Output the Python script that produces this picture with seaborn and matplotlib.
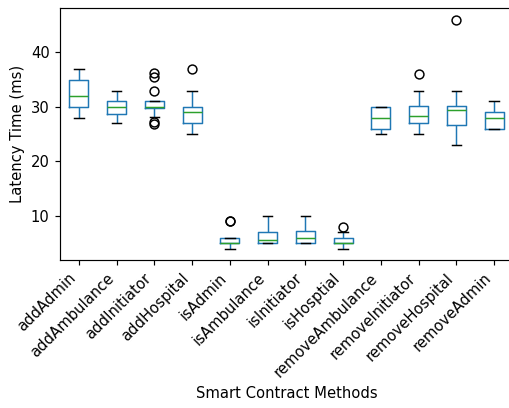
import pandas as pd
import matplotlib
matplotlib.use("Agg")
import matplotlib.pyplot as plt
import seaborn as sns

# latency samples (ms) for each smart contract method
methods = ["addAdmin", "addAmbulance", "addInitiator", "addHospital",
           "isAdmin", "isAmbulance", "isInitiator", "isHosptial",
           "removeAmbulance", "removeInitiator", "removeHospital", "removeAdmin"]

add_admin = [28, 29, 29, 30, 30, 30, 31, 31, 31, 32, 32, 32, 33, 33, 34, 35, 35, 36, 36, 37, 37]
add_ambulance = [27, 27.5, 28, 28.2, 28.5, 28.7, 29, 29.3, 29.5, 29.8, 30, 30.2, 30.4, 30.6,
                 30.8, 31, 31.5, 32, 32.3, 32.7, 33]
add_initiator = [26.8, 27.2, 28.1, 29.0, 29.5, 29.8, 29.8, 29.9, 29.9, 30.0, 30.0, 30.2, 30.5,
                 30.8, 31.0, 31.0, 31.0, 31.0, 33.0, 35.5, 36.2]
add_hospital = [25, 25.5, 26, 26.5, 27, 27, 27.5, 28, 28.3, 28.7, 29, 29.2, 29.4, 29.6, 29.8,
                30, 30.5, 31, 32, 33, 37]
is_admin = [4, 4.5, 5, 5, 5, 5, 5, 5, 5, 5, 5, 5.2, 5.5, 5.8, 6, 6, 6, 6, 6, 9, 9]
is_ambulance = [5, 5, 5, 5, 5, 5, 5.1, 5.2, 5.3, 5.4, 5.5, 5.8, 6.1, 6.5, 6.8, 7.1, 7.5, 8,
                8.7, 9.3, 10]
is_initiator = [5, 5, 5, 5, 5, 5, 5.2, 5.4, 5.6, 5.8, 6, 6.2, 6.4, 6.7, 7, 7.3, 7.7, 8.2,
                8.8, 9.4, 10]
is_hosptial = [4, 4.5, 5, 5, 5, 5, 5, 5, 5, 5, 5, 5.3, 5.5, 5.7, 5.9, 6, 6, 6.3, 6.6, 7, 8]
remove_ambulance = [25, 25.3, 25.6, 25.8, 26, 26, 26.4, 26.8, 27.2, 27.6, 28, 28.4, 28.8,
                    29.2, 29.6, 30, 30, 30, 30, 30, 30]
remove_initiator = [25, 25.5, 26, 26.3, 26.7, 27, 27.3, 27.6, 27.9, 28.2, 28.4, 28.7, 29,
                    29.4, 29.8, 30.2, 30.8, 31.5, 32.2, 33, 36]
remove_hospital = [23, 24, 24.8, 25.5, 26, 26.6, 27.5, 28.3, 28.8, 29.2, 29.5, 29.6, 29.8,
                   29.9, 30, 30.2, 30.8, 31.5, 32.2, 33, 46]
remove_admin = [26, 26, 26, 26, 26, 26, 26.5, 27, 27.3, 27.7, 28, 28.2, 28.4, 28.6, 28.8,
                29, 29.4, 29.8, 30.2, 30.6, 31]

samples = [add_admin, add_ambulance, add_initiator, add_hospital,
           is_admin, is_ambulance, is_initiator, is_hosptial,
           remove_ambulance, remove_initiator, remove_hospital, remove_admin]

df = pd.DataFrame({
    "Method": [m for m, s in zip(methods, samples) for _ in s],
    "Latency": [v for s in samples for v in s],
})

# slightly higher dpi so text and lines come out a bit larger
dpi = 106.5
fig = plt.figure(figsize=(509 / dpi, 408 / dpi), dpi=dpi)
ax = fig.add_axes([60 / 509, 1 - 260 / 408, (513 - 60) / 509, (260 - 8.3) / 408])

sns.boxplot(data=df, x="Method", y="Latency", order=methods, ax=ax,
            fill=False, color="C0", width=0.5, linewidth=1,
            boxprops=dict(color="C0"),
            whiskerprops=dict(color="C0"),
            capprops=dict(color="black"),
            medianprops=dict(color="C2"),
            flierprops=dict(marker="o", markerfacecolor="none",
                            markeredgecolor="black", markersize=6))

ax.set_xlabel("Smart Contract Methods")
ax.set_ylabel("Latency Time (ms)")
plt.setp(ax.get_xticklabels(), rotation=45, ha="right")

fig.savefig("out.png", dpi=dpi)
